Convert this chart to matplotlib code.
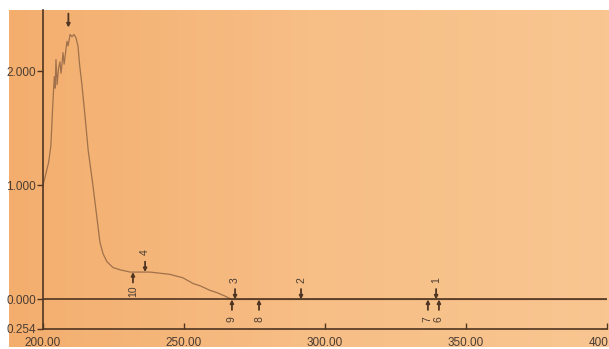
import numpy as np
import matplotlib.pyplot as plt
from matplotlib.colors import LinearSegmentedColormap

# ==========================[Data]=============================
wavelength = [200.0, 201.0, 202.0, 202.8, 203.5, 204.0, 204.3, 204.6, 205.0, 205.5,
              206.0, 206.4, 206.7, 207.1, 207.5, 207.8, 208.5, 208.9, 209.6, 210.3,
              211.0, 211.7, 212.4, 213.0, 213.8, 215.0, 216.0, 217.7, 219.1, 220.2,
              221.3, 222.7, 224.8, 227.3, 230.9, 234.4, 237.9, 241.5, 245.0, 249.6,
              253.2, 255.7, 259.2, 261.7, 264.5, 267.0, 300.0, 350.0, 400.0]
absorbance = [1.00, 1.10, 1.20, 1.35, 1.72, 1.95, 1.85, 2.10, 1.88, 2.02,
              2.08, 1.98, 2.05, 2.16, 2.06, 2.12, 2.26, 2.22, 2.32, 2.30,
              2.32, 2.29, 2.22, 2.05, 1.88, 1.58, 1.31, 1.00, 0.72, 0.50,
              0.40, 0.33, 0.28, 0.26, 0.24, 0.24, 0.24, 0.23, 0.22, 0.19,
              0.14, 0.12, 0.08, 0.06, 0.03, 0.00, 0.00, 0.00, 0.00]

peak_nm = [236.2, 268.1, 291.5, 339.4]
peak_labels = ['4', '3', '2', '1']
valley_nm = [231.9, 267.0, 276.6, 336.5, 340.4]
valley_labels = ['10', '9', '8', '7', '6']
main_peak_nm = 209.0

xticks = [200, 250, 300, 350, 400]
xtick_labels = ['200.00', '250.00', '300.00', '350.00', '400.00']
yticks = [2.0, 1.0, 0.0, -0.254]
ytick_labels = ['2.000', '1.000', '0.000', '0.254']

# ==========================[Style]=============================
ink = '#4F3522'
trace = '#A0714B'
txt = '#4A3C32'

W, H = 609, 349
fig = plt.figure(figsize=(W / 100, H / 100), dpi=100, facecolor='white')
plt.rcParams['font.family'] = ['Liberation Sans', 'DejaVu Sans']

# photographed paper with slight gradient
bg = fig.add_axes([9 / W, 2 / H, 600 / W, 337 / H], zorder=0)
grad = np.linspace(0, 1, 200)[None, :]
cmap = LinearSegmentedColormap.from_list('paper', ['#F3AE6E', '#F7BE86', '#F9C691'])
bg.imshow(grad, aspect='auto', cmap=cmap, extent=[0, 1, 0, 1])
bg.axis('off')

ax = fig.add_axes([43 / W, (H - 328.5) / H, (607 - 43) / W, (328.5 - 10) / H], zorder=1)
ax.set_facecolor('none')
ax.set_xlim(200, 400)
ax.set_ylim(-0.254, 2.534)

ax.plot(wavelength, absorbance, color=trace, lw=0.9)
ax.axhline(0, color=ink, lw=1.2)

for s in ['top', 'right']:
    ax.spines[s].set_visible(False)
for s in ['left', 'bottom']:
    ax.spines[s].set_color(ink)
    ax.spines[s].set_linewidth(1.2)

ax.set_xticks(xticks)
ax.set_xticklabels(xtick_labels)
ax.set_yticks(yticks)
ax.set_yticklabels(ytick_labels)
ax.tick_params(axis='x', direction='in', length=4, width=1, color=ink,
               labelsize=8.5, labelcolor=txt, pad=6)
ax.tick_params(axis='y', direction='out', length=4, width=1, color=ink,
               labelsize=8.5, labelcolor=txt, pad=1)

# ==========================[Peak markers]=============================
arrow = dict(arrowstyle='-|>', lw=1.3, color=ink, mutation_scale=5, shrinkA=0, shrinkB=0)

for x, lab in zip(peak_nm, peak_labels):
    y = np.interp(x, wavelength, absorbance)
    ax.annotate('', xy=(x, y), xytext=(0, 7.5), textcoords='offset points',
                arrowprops=arrow)
    ax.annotate(lab, xy=(x, y), xytext=(0, 14), textcoords='offset points',
                rotation=90, ha='center', va='center', fontsize=7.5, color=txt)

for x, lab in zip(valley_nm, valley_labels):
    y = np.interp(x, wavelength, absorbance)
    ax.annotate('', xy=(x, y), xytext=(0, -7.5), textcoords='offset points',
                arrowprops=arrow)
    ax.annotate(lab, xy=(x, y), xytext=(0, -14), textcoords='offset points',
                rotation=90, ha='center', va='center', fontsize=7.5, color=txt)

top_arrow = dict(arrow, shrinkB=5)
y = max(absorbance)
ax.annotate('', xy=(main_peak_nm, y), xytext=(0, 15), textcoords='offset points',
            arrowprops=top_arrow, annotation_clip=False)

fig.savefig('out.png', dpi=100, facecolor='white')
